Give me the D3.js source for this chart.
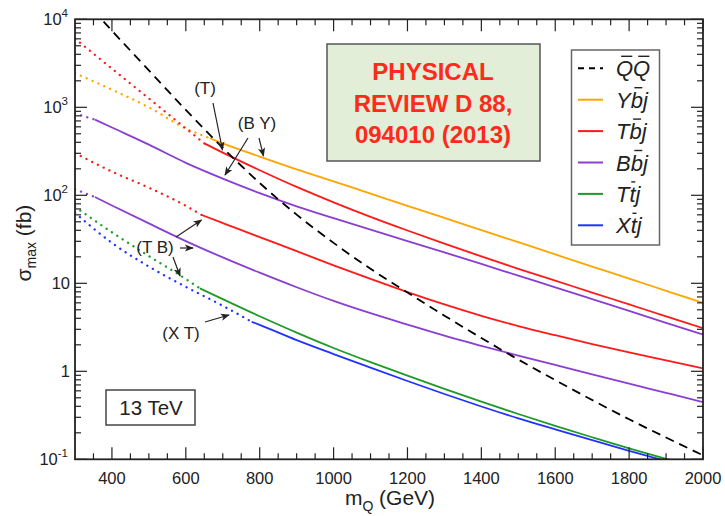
<!DOCTYPE html>
<html>
<head>
<meta charset="utf-8">
<script src="https://cdn.jsdelivr.net/npm/d3@7"></script>
<style>
  html, body { margin: 0; padding: 0; background: #fff; }
  svg { display: block; font-family: "Liberation Sans", Arial, Helvetica, sans-serif; }
</style>
</head>
<body>
<svg id="chart" width="725" height="516"></svg>
<script>
// Heavy-quark production cross sections at 13 TeV (fb) versus mass (GeV)

// Pair production Q Qbar (dashed)
const qqMass  = [350, 400, 500, 600, 700, 800, 900, 1000, 1100, 1200, 1300, 1400, 1500, 1600, 1700, 1800, 1900, 2000];
const qqSigma = [12600, 7410, 2630, 933, 347, 138, 60.3, 28.8, 14.6, 7.85, 4.29, 2.39, 1.36, 0.794, 0.472, 0.285, 0.177, 0.111];

// Single production channels; solid from the mass where the curve becomes valid, dotted below
const ybjMass  = [300, 400, 500, 600, 665, 700, 800, 900, 1000, 1100, 1200, 1300, 1400, 1500, 1600, 1700, 1800, 1900, 2000];
const ybjSigma = [2450, 1585, 1000, 575, 445, 389, 275, 197, 144, 104.5, 76.0, 55.3, 40.3, 29.3, 21.3, 15.5, 11.3, 8.22, 5.98];
const ybjSolidFrom = 665;

const tbjHiMass  = [300, 400, 500, 600, 650, 700, 800, 900, 1000, 1100, 1200, 1300, 1400, 1500, 1600, 1700, 1800, 1900, 2000];
const tbjHiSigma = [6030, 2750, 1260, 575, 389, 305.5, 192.8, 124.5, 83.2, 56.9, 39.8, 28.2, 20.2, 14.6, 10.7, 7.85, 5.75, 4.22, 3.09];
const tbjHiSolidFrom = 650;

const bbjHiMass  = [300, 354, 400, 500, 600, 700, 800, 900, 1000, 1100, 1200, 1300, 1400, 1500, 1600, 1700, 1800, 1900, 2000];
const bbjHiSigma = [851, 724, 589, 376, 234, 155, 106, 75, 55, 40.7, 30.2, 22.4, 16.6, 12.2, 9.0, 6.61, 4.85, 3.56, 2.62];
const bbjHiSolidFrom = 354;

const tbjLoMass  = [300, 400, 500, 600, 643, 700, 800, 900, 1000, 1100, 1200, 1300, 1400, 1500, 1600, 1700, 1800, 1900, 2000];
const tbjLoSigma = [302, 186, 122, 75.9, 59.7, 48.4, 33.5, 23.2, 16.0, 11.2, 7.94, 5.75, 4.27, 3.27, 2.57, 2.04, 1.64, 1.33, 1.08];
const tbjLoSolidFrom = 643;

const bbjLoMass  = [300, 354, 400, 500, 600, 700, 800, 900, 1000, 1100, 1200, 1300, 1400, 1500, 1600, 1700, 1800, 1900, 2000];
const bbjLoSigma = [117, 95.5, 76.7, 47.9, 30.2, 19.7, 13.2, 9.02, 6.31, 4.57, 3.39, 2.54, 1.95, 1.51, 1.18, 0.923, 0.724, 0.569, 0.447];
const bbjLoSolidFrom = 354;

const ttjMass  = [300, 400, 500, 600, 638, 700, 800, 900, 1000, 1100, 1200, 1300, 1400, 1500, 1600, 1700, 1800, 1900, 2000];
const ttjSigma = [74.1, 38.0, 20.4, 11.2, 8.77, 6.61, 4.22, 2.75, 1.84, 1.27, 0.891, 0.631, 0.452, 0.327, 0.240, 0.178, 0.133, 0.101, 0.0776];
const ttjSolidFrom = 638;

const xtjMass  = [300, 400, 500, 600, 700, 778, 800, 900, 1000, 1100, 1200, 1300, 1400, 1500, 1600, 1700, 1800, 1900, 2000];
const xtjSigma = [63.1, 28.8, 15.5, 9.12, 5.56, 3.66, 3.37, 2.26, 1.57, 1.10, 0.776, 0.552, 0.398, 0.292, 0.219, 0.165, 0.125, 0.0955, 0.0733];
const xtjSolidFrom = 778;

// Axis ticks
const xMajorTicks = [400, 600, 800, 1000, 1200, 1400, 1600, 1800, 2000];
const yDecades = [0.1, 1, 10, 100, 1000, 10000];
const yTickLabels = [["10", "-1"], ["1", ""], ["10", ""], ["10", "2"], ["10", "3"], ["10", "4"]];

const legendLabels = ["QQ", "Ybj", "Tbj", "Bbj", "Ttj", "Xtj"];
const legendBars   = [[0, 1], [1], [1], [1], [1], [1]]; // characters carrying an overbar

const colors = {
  qq: "#000000", ybj: "#ffa500", tbj: "#ff1a1a", bbj: "#8a3fd1", ttj: "#1f9a2a", xtj: "#2233ff"
};

const svg = d3.select("#chart");
const L = 75, R = 703, T = 19.3, B = 459.3;
const x = d3.scaleLinear().domain([300, 2000]).range([L, R]);
const y = d3.scaleLog().domain([0.1, 10000]).range([B, T]);

const defs = svg.append("defs");
defs.append("clipPath").attr("id", "plotClip")
  .append("rect").attr("x", L).attr("y", T).attr("width", R - L).attr("height", B - T);
defs.append("marker")
  .attr("id", "arrowHead").attr("viewBox", "0 0 10 10").attr("refX", 9).attr("refY", 5)
  .attr("markerWidth", 9).attr("markerHeight", 9).attr("markerUnits", "userSpaceOnUse")
  .attr("orient", "auto")
  .append("path").attr("d", "M0,1 L10,5 L0,9 L2.5,5 Z").attr("fill", "#222");

const plot = svg.append("g").attr("clip-path", "url(#plotClip)");

const line = d3.line().x(d => x(d[0])).y(d => y(d[1])).curve(d3.curveMonotoneX);

function drawChannel(masses, sigmas, solidFrom, color) {
  const pts = masses.map((m, i) => [m, sigmas[i]]);
  const dotted = pts.filter(p => p[0] <= solidFrom);
  const solid = pts.filter(p => p[0] >= solidFrom);
  if (dotted.length > 1) {
    plot.append("path").attr("d", line(dotted)).attr("fill", "none")
      .attr("stroke", color).attr("stroke-width", 2.3)
      .attr("stroke-linecap", "round").attr("stroke-dasharray", "0.1 6.3");
  }
  plot.append("path").attr("d", line(solid)).attr("fill", "none")
    .attr("stroke", color).attr("stroke-width", 1.8);
}

drawChannel(ybjMass, ybjSigma, ybjSolidFrom, colors.ybj);
drawChannel(tbjHiMass, tbjHiSigma, tbjHiSolidFrom, colors.tbj);
drawChannel(bbjHiMass, bbjHiSigma, bbjHiSolidFrom, colors.bbj);
drawChannel(tbjLoMass, tbjLoSigma, tbjLoSolidFrom, colors.tbj);
drawChannel(bbjLoMass, bbjLoSigma, bbjLoSolidFrom, colors.bbj);
drawChannel(ttjMass, ttjSigma, ttjSolidFrom, colors.ttj);
drawChannel(xtjMass, xtjSigma, xtjSolidFrom, colors.xtj);

plot.append("path")
  .attr("d", line(qqMass.map((m, i) => [m, qqSigma[i]])))
  .attr("fill", "none").attr("stroke", colors.qq).attr("stroke-width", 1.8)
  .attr("stroke-dasharray", "9 6");

// Frame and inward ticks on all four sides
const xMinor = d3.range(350, 2000, 50).filter(v => !xMajorTicks.includes(v));
const yMinor = [];
yDecades.slice(0, -1).forEach(d => { for (let k = 2; k <= 9; k++) yMinor.push(d * k); });

const ticks = svg.append("g").attr("stroke", "#222").attr("stroke-width", 1.2);
xMajorTicks.forEach(v => {
  ticks.append("line").attr("x1", x(v)).attr("x2", x(v)).attr("y1", B).attr("y2", B - 12);
  ticks.append("line").attr("x1", x(v)).attr("x2", x(v)).attr("y1", T).attr("y2", T + 12);
});
xMinor.forEach(v => {
  ticks.append("line").attr("x1", x(v)).attr("x2", x(v)).attr("y1", B).attr("y2", B - 6);
  ticks.append("line").attr("x1", x(v)).attr("x2", x(v)).attr("y1", T).attr("y2", T + 6);
});
yDecades.forEach(v => {
  ticks.append("line").attr("x1", L).attr("x2", L + 12).attr("y1", y(v)).attr("y2", y(v));
  ticks.append("line").attr("x1", R).attr("x2", R - 12).attr("y1", y(v)).attr("y2", y(v));
});
yMinor.forEach(v => {
  ticks.append("line").attr("x1", L).attr("x2", L + 6).attr("y1", y(v)).attr("y2", y(v));
  ticks.append("line").attr("x1", R).attr("x2", R - 6).attr("y1", y(v)).attr("y2", y(v));
});

svg.append("rect").attr("x", L).attr("y", T).attr("width", R - L).attr("height", B - T)
  .attr("fill", "none").attr("stroke", "#222").attr("stroke-width", 1.8);

// Tick labels
const xLab = svg.append("g").attr("font-size", 16.5).attr("fill", "#222").attr("text-anchor", "middle");
xMajorTicks.forEach(v => {
  xLab.append("text").attr("x", x(v)).attr("y", 484).text(v);
});

const yLab = svg.append("g").attr("font-size", 16.5).attr("fill", "#222").attr("text-anchor", "end");
yDecades.forEach((v, i) => {
  const [base, sup] = yTickLabels[i];
  const t = yLab.append("text").attr("x", sup ? 68 : 70).attr("y", y(v) + 6);
  t.append("tspan").text(base);
  if (sup) t.append("tspan").attr("font-size", 11.5).attr("dy", -8).text(sup);
});

// Axis titles
const yTitle = svg.append("text").attr("transform", "translate(31,243) rotate(-90)")
  .attr("text-anchor", "middle").attr("font-size", 21).attr("fill", "#222");
yTitle.append("tspan").text("σ");
yTitle.append("tspan").attr("font-size", 14).attr("dy", 5).text("max");
yTitle.append("tspan").attr("dy", -5).text(" (fb)");

const xTitle = svg.append("text").attr("x", 390).attr("y", 505)
  .attr("text-anchor", "middle").attr("font-size", 21).attr("fill", "#222");
xTitle.append("tspan").text("m");
xTitle.append("tspan").attr("font-size", 14).attr("dy", 6).text("Q");
xTitle.append("tspan").attr("dy", -6).text(" (GeV)");

// Journal reference box
svg.append("rect").attr("x", 327).attr("y", 44).attr("width", 213).attr("height", 117)
  .attr("fill", "#e2eed8").attr("stroke", "#555").attr("stroke-width", 1.5);
const refLines = ["PHYSICAL", "REVIEW D 88,", "094010 (2013)"];
refLines.forEach((s, i) => {
  svg.append("text").attr("x", 433).attr("y", 80 + i * 31.5).attr("text-anchor", "middle")
    .attr("font-size", 24).attr("font-weight", "bold").attr("fill", "#ff2a1a").text(s);
});

// Legend
svg.append("rect").attr("x", 571.5).attr("y", 50).attr("width", 88).attr("height", 195)
  .attr("fill", "#fff").attr("stroke", "#666").attr("stroke-width", 1.5);
const legendColors = [colors.qq, colors.ybj, colors.tbj, colors.bbj, colors.ttj, colors.xtj];
legendLabels.forEach((lab, i) => {
  const ly = 68.3 + i * 31.4;
  svg.append("line").attr("x1", 578).attr("x2", 603).attr("y1", ly).attr("y2", ly)
    .attr("stroke", legendColors[i]).attr("stroke-width", 2)
    .attr("stroke-dasharray", i === 0 ? "6 5" : null);
  const t = svg.append("text").attr("x", 616).attr("y", ly + 8)
    .attr("font-size", 22).attr("font-style", "italic").attr("fill", "#222").text(lab);
  const node = t.node();
  legendBars[i].forEach(ci => {
    const box = node.getExtentOfChar(ci);
    svg.append("line")
      .attr("x1", box.x + box.width * 0.3).attr("x2", box.x + box.width * 0.95)
      .attr("y1", ly - 12).attr("y2", ly - 12)
      .attr("stroke", "#222").attr("stroke-width", 1.4);
  });
});

// Energy box
svg.append("rect").attr("x", 106).attr("y", 390).attr("width", 89).attr("height", 35)
  .attr("fill", "#fff").attr("stroke", "#444").attr("stroke-width", 1.5);
svg.append("text").attr("x", 151).attr("y", 415).attr("text-anchor", "middle")
  .attr("font-size", 20.5).attr("fill", "#222").text("13 TeV");

// Channel annotations with arrows
const notes = [
  { text: "(T)", x: 205, y: 94 },
  { text: "(B Y)", x: 257, y: 129 },
  { text: "(T B)", x: 155, y: 253 },
  { text: "(X T)", x: 181, y: 339 }
];
notes.forEach(n => {
  svg.append("text").attr("x", n.x).attr("y", n.y).attr("text-anchor", "middle")
    .attr("font-size", 17).attr("fill", "#222").text(n.text);
});
const arrows = [
  [213, 103, 222.5, 150],
  [248, 138, 225, 175],
  [259, 138, 263.5, 156],
  [176, 237, 201.5, 220],
  [180, 248, 193, 248],
  [173, 257, 180, 276],
  [205, 322, 229, 315]
];
arrows.forEach(a => {
  svg.append("line").attr("x1", a[0]).attr("y1", a[1]).attr("x2", a[2]).attr("y2", a[3])
    .attr("stroke", "#222").attr("stroke-width", 1.2).attr("marker-end", "url(#arrowHead)");
});
</script>
</body>
</html>
